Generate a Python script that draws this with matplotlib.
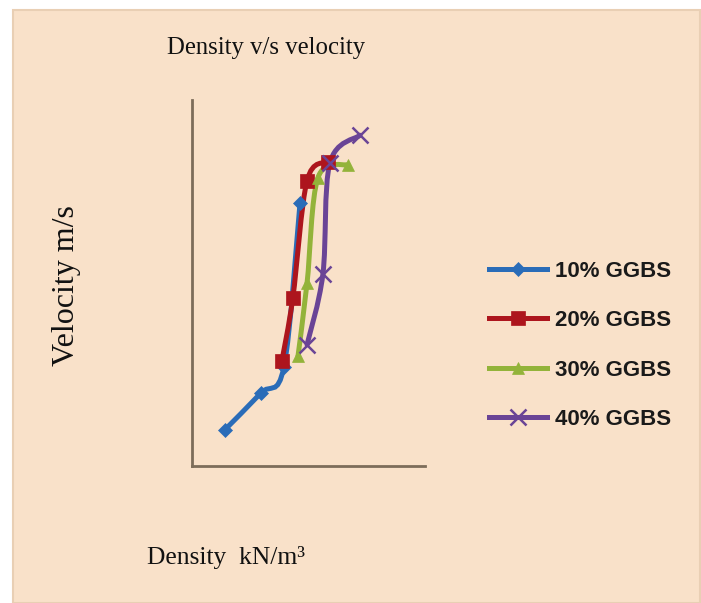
import numpy as np
import matplotlib
matplotlib.use('Agg')
import matplotlib.pyplot as plt
from matplotlib.path import Path
from matplotlib.patches import PathPatch, Rectangle

# density (kN/m3) vs velocity (km/s)
density_10 = [21.42, 22.96, 23.95, 24.64]
velocity_10 = [2.75, 3.00, 3.18, 4.30]
density_20 = [23.86, 24.33, 24.94, 25.84]
velocity_20 = [3.22, 3.65, 4.45, 4.58]
density_30 = [24.55, 24.94, 25.41, 26.70]
velocity_30 = [3.25, 3.75, 4.47, 4.56]
density_40 = [24.94, 25.62, 25.92, 27.21]
velocity_40 = [3.33, 3.81, 4.57, 4.76]

labels = ['10% GGBS', '20% GGBS', '30% GGBS', '40% GGBS']
colors = ['#2a6cb8', '#ad151d', '#93b33a', '#6a4496']
markers = ['D', 's', '^', 'x']
msizes = [7.5, 10, 9, 11]


def smoothPath(xs, ys):
    # excel-like smoothed line: catmull-rom converted to cubic bezier
    pts = np.column_stack([xs, ys])
    verts = [pts[0]]
    codes = [Path.MOVETO]
    n = len(pts)
    for i in range(n - 1):
        p0 = pts[i - 1] if i > 0 else pts[i]
        p1 = pts[i]
        p2 = pts[i + 1]
        p3 = pts[i + 2] if i + 2 < n else pts[i + 1]
        c1 = p1 + (p2 - p0) / 6.0
        c2 = p2 - (p3 - p1) / 6.0
        verts += [c1, c2, p2]
        codes += [Path.CURVE4] * 3
    return Path(verts, codes)


fig = plt.figure(figsize=(7.01, 6.03), dpi=100)
fig.patch.set_facecolor('white')
fig.patches.append(Rectangle((0.0185, 0), 0.98, 0.983, transform=fig.transFigure,
                             facecolor='#f9e1c9', edgecolor='#e9cfb4', lw=1.5, zorder=-10))

ax = fig.add_axes([0.274, 0.227, 0.332, 0.607])
ax.set_facecolor('none')

series = [(density_10, velocity_10), (density_20, velocity_20),
          (density_30, velocity_30), (density_40, velocity_40)]

for (xs, ys), lab, col, mk, ms in zip(series, labels, colors, markers, msizes):
    patch = PathPatch(smoothPath(xs, ys), facecolor='none', edgecolor=col,
                      lw=3.6, transform=ax.transData, capstyle='round')
    ax.add_patch(patch)
    ax.plot(xs, ys, linestyle='none', marker=mk, color=col, markersize=ms,
            markeredgewidth=1.8 if mk == 'x' else 0.5)
    # legend proxy
    ax.plot([], [], color=col, lw=3.6, marker=mk, markersize=ms,
            markeredgewidth=1.8 if mk == 'x' else 0.5, label=lab)

ax.set_xlim(20, 30)
ax.set_ylim(2.5, 5.0)
ax.set_xticks([])
ax.set_yticks([])
for side in ['top', 'right']:
    ax.spines[side].set_visible(False)
for side in ['left', 'bottom']:
    ax.spines[side].set_color('#7d6d5a')
    ax.spines[side].set_linewidth(2)

serif = ['Liberation Serif', 'DejaVu Serif']
fig.text(0.379, 0.920, 'Density v/s velocity', family=serif, fontsize=17.8,
         ha='center', va='center', color='#111111')
fig.text(0.095, 0.527, 'Velocity m/s', family=serif, fontsize=23,
         rotation=90, ha='center', va='center', color='#111111')
fig.text(0.322, 0.075, 'Density  kN/m\u00b3', family=serif, fontsize=18.4,
         ha='center', va='center', color='#111111')

leg = ax.legend(loc='center left', bbox_to_anchor=(1.19, 0.33), frameon=False,
                prop={'family': 'Liberation Sans', 'weight': 'bold', 'size': 16},
                labelspacing=1.28, handlelength=2.6, handletextpad=0.35)
for t in leg.get_texts():
    t.set_color('#1a1a1a')

fig.savefig('out.png', dpi=100, facecolor=fig.get_facecolor())
